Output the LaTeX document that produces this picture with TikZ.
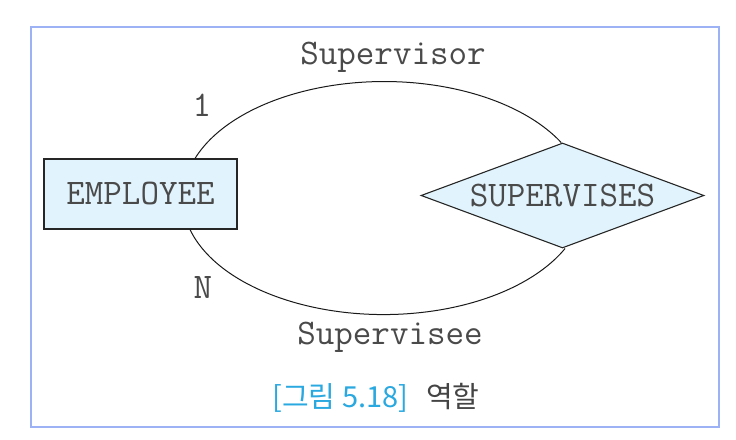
\documentclass[tikz,border=0pt]{standalone}
\usepackage{fontspec}
\newfontfamily\krfont{Noto Sans CJK KR}
\usetikzlibrary{shapes.geometric,calc}
\definecolor{framecol}{HTML}{9DB2F4}
\definecolor{boxfill}{HTML}{E1F3FC}
\definecolor{txtcol}{HTML}{4A4A4A}
\definecolor{capblue}{HTML}{2AA8E0}
\definecolor{capgray}{HTML}{444444}
\begin{document}
\begin{tikzpicture}[x=1pt,y=1pt,
  ertext/.style={font=\fontsize{36}{36}\selectfont\ttfamily, text=txtcol},
  entitybox/.style={draw=black!85, fill=boxfill, line width=1.1pt, minimum width=193pt, minimum height=70pt, inner sep=0pt, ertext},
  relbox/.style={diamond, aspect=2.7, draw=black!85, fill=boxfill, line width=1.1pt, minimum width=283pt, minimum height=105pt, inner sep=0pt, ertext},
  edge/.style={draw=black!90, line width=1pt}]
\useasboundingbox (0,0) rectangle (736,439);
\draw[framecol, line width=1.3pt] (31,12) rectangle (719,412);
\node[entitybox] (emp) at (140.5,245) {EMPLOYEE};
\node[relbox] (rel) at (562.5,243.5) {SUPERVISES};
\coordinate (topstart) at ($(emp.north)+(54.5,0)$);
\coordinate (botstart) at ($(emp.south)+(49.5,0)$);
\draw[edge] (topstart) arc[start angle=160.3, end angle=28.3, x radius=201, y radius=116];
\draw[edge] (botstart) arc[start angle=195.5, end angle=334.5, x radius=201, y radius=116];
\node[ertext] (supervisor) at (393,382) {Supervisor};
\node[ertext] (supervisee) at (390,102) {Supervisee};
\node[ertext] (one) at (202,334) {1};
\node[ertext] (many) at (203,151) {N};
\node[font=\krfont\fontsize{29}{29}\selectfont] (cap) at (376,41) {{\color{capblue}[그림 5.18]}\hspace{18pt}{\color{capgray}역할}};
\end{tikzpicture}
\end{document}
